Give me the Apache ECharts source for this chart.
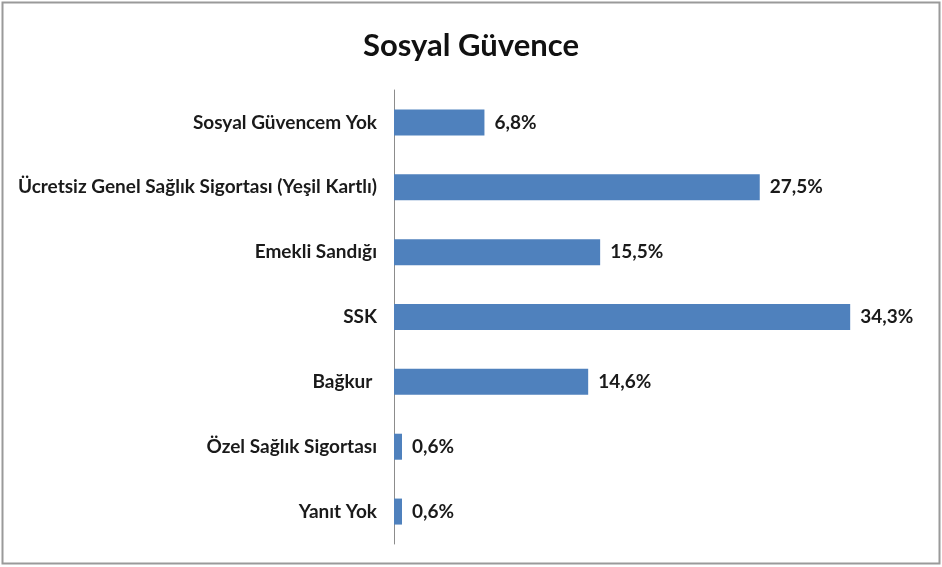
<!DOCTYPE html>
<html><head><meta charset="utf-8">
<script src="https://cdn.jsdelivr.net/npm/echarts@6/dist/echarts.min.js"></script>
<style>html,body{margin:0;padding:0;background:#fff}#c{width:942px;height:567px}</style>
</head><body><div id="c"></div>
<script>
const categories = ["Sosyal Güvencem Yok","Ücretsiz Genel Sağlık Sigortası (Yeşil Kartlı)","Emekli Sandığı","SSK","Bağkur ","Özel Sağlık Sigortası","Yanıt Yok"];
const values = [6.8,27.5,15.5,34.3,14.6,0.6,0.6];
const titleText = "Sosyal Güvence";
const FONT = "Lato";
const chart = echarts.init(document.getElementById('c'));
chart.setOption({
  backgroundColor:'#fff',
  animation:false,
  title:{text:titleText,left:'center',top:25,textStyle:{fontFamily:FONT,fontSize:31,fontWeight:'bold',color:'#111'}},
  grid:{left:394,top:90,width:532,height:454},
  xAxis:{type:'value',min:0,max:40,show:false},
  yAxis:{type:'category',inverse:true,data:categories,
    axisLine:{show:true,lineStyle:{color:'#8c8c8c',width:1}},
    axisTick:{show:false},
    axisLabel:{fontFamily:FONT,fontSize:19,fontWeight:'bold',color:'#1a1a1a',margin:17}},
  series:[{type:'bar',data:values,barWidth:26,itemStyle:{color:'#4F81BD'},
    label:{show:true,position:'right',distance:10,fontFamily:FONT,fontSize:19,fontWeight:'bold',color:'#1a1a1a',
      formatter:p=>p.value.toFixed(1).replace('.',',')+'%'}}],
  graphic:[{type:'rect',shape:{x:2.5,y:2.5,width:937,height:561},style:{fill:'none',stroke:'#9a9a9a',lineWidth:2}}]
});
</script></body></html>
